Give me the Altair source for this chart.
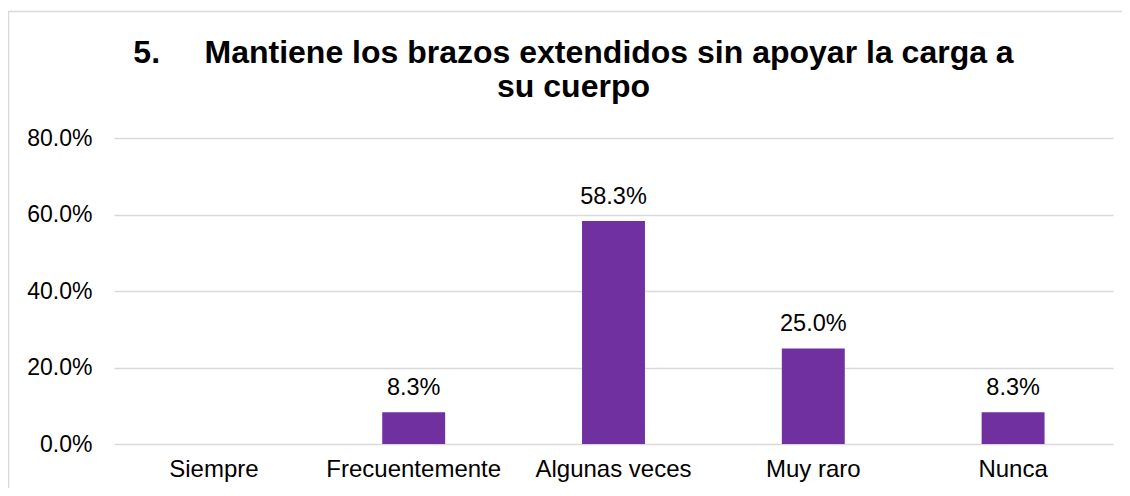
import altair as alt
import pandas as pd

categories = ["Siempre", "Frecuentemente", "Algunas veces", "Muy raro", "Nunca"]
values = [0.0, 0.083, 0.583, 0.25, 0.083]
y_ticks = [0.0, 0.2, 0.4, 0.6, 0.8]
title_lines = [
    "5.\u00a0\u00a0\u00a0\u00a0\u00a0Mantiene los brazos extendidos sin apoyar la carga a",
    "su cuerpo",
]

FONT = "Liberation Sans"
W, H = 999, 306
BAR_COLOR = "#7030A0"
GRID = "#d9d9d9"

df = pd.DataFrame({"cat": categories, "val": values})

base = alt.Chart(df).encode(
    x=alt.X(
        "cat:N",
        sort=categories,
        scale=alt.Scale(paddingInner=0.685, paddingOuter=0.3425),
        axis=alt.Axis(
            title=None,
            labelAngle=0,
            labelFont=FONT,
            labelFontSize=24,
            labelColor="#000000",
            labelPadding=13,
            ticks=False,
            domain=False,
            grid=False,
        ),
    ),
    y=alt.Y(
        "val:Q",
        scale=alt.Scale(domain=[0, 0.8], nice=False),
        axis=alt.Axis(
            title=None,
            values=y_ticks,
            format=".1%",
            labelFont=FONT,
            labelFontSize=23,
            labelColor="#000000",
            labelPadding=22,
            ticks=False,
            domain=False,
            grid=True,
            gridColor=GRID,
            gridWidth=1.5,
        ),
    ),
)

bars = base.mark_bar(color=BAR_COLOR)

labels = (
    base.transform_filter("datum.val > 0")
    .mark_text(dy=-17, baseline="alphabetic", align="center", font=FONT, fontSize=23.5, color="#000000")
    .encode(text=alt.Text("val:Q", format=".1%"))
)

border = (
    alt.Chart(alt.Data(values=[{"b": 1}]))
    .mark_rect(filled=False, stroke=GRID, strokeWidth=1.5)
    .encode(
        x=alt.value(-105.5),
        x2=alt.value(W + 16.5),
        y=alt.value(-126.5),
        y2=alt.value(H + 120),
    )
)

chart = (
    alt.layer(border, bars, labels)
    .properties(
        width=W,
        height=H,
        title=alt.Title(
            text=title_lines,
            font=FONT,
            fontSize=32,
            fontWeight="bold",
            color="#000000",
            anchor="middle",
            dx=-40,
            lineHeight=34,
            offset=-93,
        ),
        autosize=alt.AutoSizeParams(type="none"),
        padding={"left": 106, "top": 130, "right": 9, "bottom": 44},
    )
    .configure(background="#ffffff", view=alt.ViewConfig(stroke="transparent", strokeWidth=0))
)

chart.save("out.html", embed_options={"renderer": "svg", "actions": False})
